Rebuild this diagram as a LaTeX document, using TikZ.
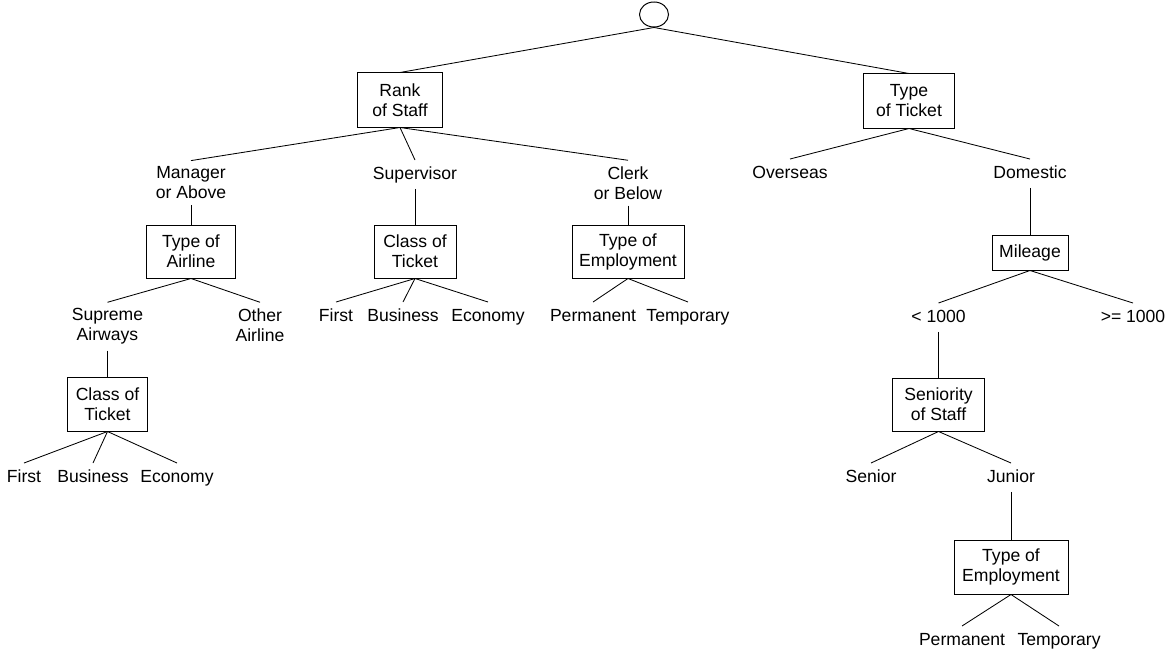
\documentclass[tikz,border=0pt]{standalone}
\usepackage{fontspec}
\setsansfont{Liberation Sans}
\usepackage{tikz}
\usetikzlibrary{shapes.geometric}

\begin{document}
\begin{tikzpicture}[
    x=0.025cm, y=-0.025cm,
    every node/.style={font=\sffamily\fontsize{12.5}{14.2}\selectfont},
    attr/.style={draw, line width=0.7pt, rectangle, minimum height=1.35cm, inner sep=0pt, align=center},
    val/.style={inner xsep=2pt, inner ysep=0.15cm, text height=0.32cm, text depth=0.09cm},
    vals/.style={inner xsep=2pt, inner ysep=0.15cm, align=center},
    link/.style={line width=0.6pt}
]
\useasboundingbox (0,0) rectangle (1174,656);

% root and first level
\node (root) [draw, ellipse, line width=0.7pt, minimum width=0.725cm, minimum height=0.625cm, inner sep=0pt] at (654,14.5) {};
\node (rank) [attr, minimum width=2.125cm] at (400,100) {Rank\\of Staff};
\node (ticket) [attr, minimum width=2.275cm] at (909,101) {Type\\of Ticket};

% rank of staff branch
\node (mgr) [vals] at (191,183) {Manager\\or Above};
\node (sup) [val] at (415,174.5) {Supervisor};
\node (clerk) [vals] at (628,183) {Clerk\\or Below};

\node (airline) [attr, minimum width=2.225cm, minimum height=1.325cm] at (191,251.5) {Type of\\Airline};
\node (supreme) [vals] at (107.5,326.5) {Supreme\\Airways};
\node (other) [vals] at (260,325) {Other\\Airline};
\node (classA) [attr, minimum width=2cm] at (107.5,404) {Class of\\Ticket};
\node (firstA) [val] at (24,477.5) {First};
\node (busA) [val] at (93,477.5) {Business};
\node (ecoA) [val] at (177,477.5) {Economy};

\node (classB) [attr, minimum width=2.05cm, minimum height=1.325cm] at (415,251.5) {Class of\\Ticket};
\node (firstB) [val] at (336,316.5) {First};
\node (busB) [val] at (403,316.5) {Business};
\node (ecoB) [val] at (488,316.5) {Economy};

\node (empB) [attr, minimum width=2.8cm, minimum height=1.325cm] at (628,251.5) {Type of\\Employment};
\node (permB) [val] at (593,316.5) {Permanent};
\node (tempB) [val] at (688,316.5) {Temporary};

% type of ticket branch
\node (overseas) [val] at (790,173.5) {Overseas};
\node (domestic) [val] at (1030,173.5) {Domestic};
\node (mileage) [attr, minimum width=1.9cm, minimum height=0.875cm] at (1030,252.5) {Mileage};
\node (lt) [val] at (938.5,317.5) {< 1000};
\node (ge) [val] at (1133,317.5) {>= 1000};
\node (senior) [attr, minimum width=2.3cm, minimum height=1.325cm] at (938.5,404.5) {Seniority\\of Staff};
\node (snr) [val] at (871,477.5) {Senior};
\node (jnr) [val] at (1011,477.5) {Junior};
\node (empC) [attr, minimum width=2.85cm] at (1011,567) {Type of\\Employment};
\node (permC) [val] at (962,640.5) {Permanent};
\node (tempC) [val] at (1059,640.5) {Temporary};

\draw [link] (root.south) -- (rank.north);
\draw [link] (root.south) -- (ticket.north);
\draw [link] (rank.south) -- (mgr.north);
\draw [link] (rank.south) -- (sup.north);
\draw [link] (rank.south) -- (clerk.north);
\draw [link] (mgr.south) -- (airline.north);
\draw [link] (airline.south) -- (supreme.north);
\draw [link] (airline.south) -- (other.north);
\draw [link] (supreme.south) -- (classA.north);
\draw [link] (classA.south) -- (firstA.north);
\draw [link] (classA.south) -- (busA.north);
\draw [link] (classA.south) -- (ecoA.north);
\draw [link] (sup.south) -- (classB.north);
\draw [link] (classB.south) -- (firstB.north);
\draw [link] (classB.south) -- (busB.north);
\draw [link] (classB.south) -- (ecoB.north);
\draw [link] (clerk.south) -- (empB.north);
\draw [link] (empB.south) -- (permB.north);
\draw [link] (empB.south) -- (tempB.north);
\draw [link] (ticket.south) -- (overseas.north);
\draw [link] (ticket.south) -- (domestic.north);
\draw [link] (domestic.south) -- (mileage.north);
\draw [link] (mileage.south) -- (lt.north);
\draw [link] (mileage.south) -- (ge.north);
\draw [link] (lt.south) -- (senior.north);
\draw [link] (senior.south) -- (snr.north);
\draw [link] (senior.south) -- (jnr.north);
\draw [link] (jnr.south) -- (empC.north);
\draw [link] (empC.south) -- (permC.north);
\draw [link] (empC.south) -- (tempC.north);

\end{tikzpicture}
\end{document}
